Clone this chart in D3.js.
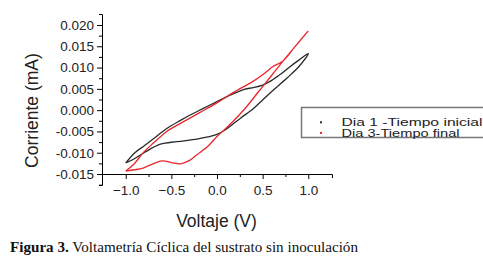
<!DOCTYPE html>
<html>
<head>
<meta charset="utf-8">
<script src="https://cdn.jsdelivr.net/npm/d3@7"></script>
<style>
  body { margin: 0; background: #fff; }
  svg { display: block; }
</style>
</head>
<body>
<div id="chart"></div>
<script>
// Dia 1 loop: voltage (V) and current (x0.001 mA), upper branch then back along lower branch
const dia1Volt = [-1.0, -0.9, -0.8, -0.7, -0.55, -0.4, -0.3, -0.15, 0.0, 0.15, 0.3, 0.4, 0.5, 0.6, 0.7, 0.8, 0.9, 1.0,
                  0.9, 0.77, 0.6, 0.5, 0.4, 0.25, 0.1, 0.0, -0.1, -0.22, -0.44, -0.62, -0.8, -0.92, -1.0];
const dia1Curr = [-12.4, -10.0, -8.4, -6.8, -4.3, -2.4, -1.2, 0.4, 2.0, 3.6, 4.9, 5.3, 5.9, 7.0, 8.5, 10.2, 11.8, 13.3,
                  10.3, 7.6, 4.4, 2.4, 0.4, -2.0, -4.5, -5.7, -6.3, -6.8, -7.4, -8.0, -10.0, -11.6, -12.4];

// Dia 3 loop
const dia3Volt = [-1.0, -0.92, -0.8, -0.7, -0.55, -0.4, -0.2, 0.0, 0.2, 0.39, 0.5, 0.61, 0.72, 0.85, 1.0,
                  0.85, 0.73, 0.6, 0.45, 0.3, 0.15, 0.0, -0.1, -0.22, -0.3, -0.4, -0.5, -0.6, -0.7, -0.81, -0.9, -1.0];
const dia3Curr = [-14.3, -12.9, -9.8, -7.8, -5.0, -3.1, -0.7, 1.7, 4.4, 6.7, 8.3, 10.2, 11.5, 14.8, 18.6,
                  14.8, 11.7, 8.2, 4.2, 0.2, -3.2, -6.2, -8.5, -10.5, -11.8, -12.6, -12.3, -11.9, -12.6, -13.6, -14.0, -14.3];

const xTicks = [-1.0, -0.5, 0.0, 0.5, 1.0];
const xMinor = [-0.75, -0.25, 0.25, 0.75];
const yTicks = [-0.015, -0.010, -0.005, 0.000, 0.005, 0.010, 0.015, 0.020];
const yMinor = [-0.0175, -0.0125, -0.0075, -0.0025, 0.0025, 0.0075, 0.0125, 0.0175];

const seriesNames = ["Dia 1 -Tiempo inicial", "Dia 3-Tiempo final"];
const seriesColors = ["#2a2a2a", "#e8262b"];

const width = 483, height = 262;

const svg = d3.select("#chart").append("svg")
    .attr("width", width).attr("height", height)
    .style("font-family", "'Liberation Sans', Arial, sans-serif");

svg.append("rect").attr("width", width).attr("height", height).attr("fill", "#fff");

// scales (axis frame runs a bit past the outer ticks, like the original)
let x = d3.scaleLinear().domain([-1.26, 1.26]).range([102, 332]);
let y = d3.scaleLinear().domain([-0.01758, 0.02258]).range([185, 14]);

// x axis sits at y = -0.015
const xAxisY = y(-0.015);

svg.append("g")
    .attr("transform", `translate(0,${xAxisY})`)
    .call(d3.axisBottom(x).tickValues(xMinor).tickSize(3).tickSizeOuter(0).tickFormat(""))
    .call(g => g.select(".domain").remove());

svg.append("g")
    .attr("transform", `translate(0,${xAxisY})`)
    .call(d3.axisBottom(x).tickValues(xTicks).tickSize(5).tickSizeOuter(4).tickPadding(6)
        .tickFormat(d3.format(".1f")))
    .call(g => g.selectAll("text").attr("font-size", 13.5).attr("fill", "#222")
        .attr("font-family", "'Liberation Sans', Arial, sans-serif"));

svg.append("g")
    .attr("transform", "translate(102,0)")
    .call(d3.axisLeft(y).tickValues(yMinor).tickSize(3).tickSizeOuter(0).tickFormat(""))
    .call(g => g.select(".domain").remove());

svg.append("g")
    .attr("transform", "translate(102,0)")
    .call(d3.axisLeft(y).tickValues(yTicks).tickSize(5).tickSizeOuter(3).tickPadding(3)
        .tickFormat(d => d3.format(".3f")(d).replace("−", "-")))
    .call(g => g.selectAll("text").attr("font-size", 13.5).attr("fill", "#222")
        .attr("font-family", "'Liberation Sans', Arial, sans-serif"));

// axis titles
svg.append("text")
    .attr("x", 216.5).attr("y", 227)
    .attr("text-anchor", "middle")
    .attr("font-size", 17.5).attr("fill", "#222")
    .text("Voltaje (V)");

svg.append("text")
    .attr("transform", "translate(38,110.5) rotate(-90)")
    .attr("text-anchor", "middle")
    .attr("font-size", 17.5).attr("fill", "#222")
    .text("Corriente (mA)");

// curves
const line = d3.line()
    .x(d => x(d[0]))
    .y(d => y(d[1] / 1000))
    .curve(d3.curveCatmullRom.alpha(0.5));

const dia1 = dia1Volt.map((v, i) => [v, dia1Curr[i]]);
const dia3 = dia3Volt.map((v, i) => [v, dia3Curr[i]]);

[dia1, dia3].forEach((s, i) => {
    svg.append("path")
        .datum(s)
        .attr("fill", "none")
        .attr("stroke", seriesColors[i])
        .attr("stroke-width", 1.3)
        .attr("d", line);
});

// legend (the text in the original is stretched sideways)
const legend = svg.append("g");
legend.append("rect")
    .attr("x", 301.5).attr("y", 107.5)
    .attr("width", 200).attr("height", 30)
    .attr("fill", "#fff").attr("stroke", "#777").attr("stroke-width", 1.5);

const legendWidths = [141, 118];
seriesNames.forEach((name, i) => {
    const ly = 122.3 + i * 10.6;
    legend.append("rect")
        .attr("x", 320).attr("y", ly - 1)
        .attr("width", 2).attr("height", 2)
        .attr("fill", seriesColors[i]);
    legend.append("text")
        .attr("x", 341.5).attr("y", ly + 4)
        .attr("font-size", 11.5).attr("fill", "#222")
        .attr("textLength", legendWidths[i])
        .attr("lengthAdjust", "spacingAndGlyphs")
        .text(name);
});

// caption
const cap = svg.append("text")
    .attr("x", 10).attr("y", 252)
    .attr("font-family", "'Liberation Serif', 'Times New Roman', serif")
    .attr("font-size", 14.5).attr("fill", "#111")
    .attr("textLength", 348)
    .attr("lengthAdjust", "spacingAndGlyphs");
cap.append("tspan").attr("font-weight", "bold").text("Figura 3.");
cap.append("tspan").text(" Voltametría Cíclica del sustrato sin inoculación");
</script>
</body>
</html>
